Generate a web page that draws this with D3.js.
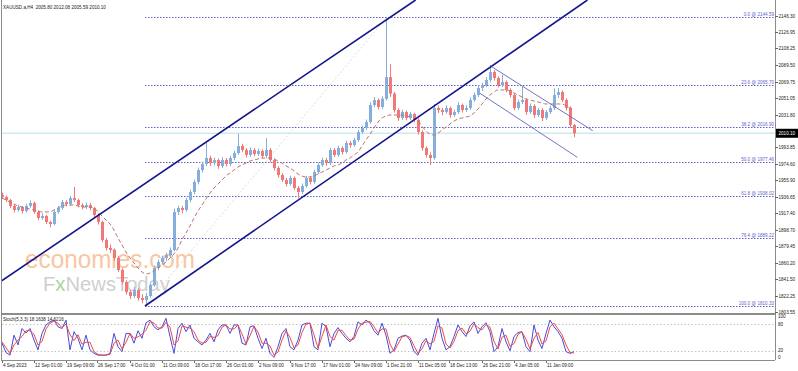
<!DOCTYPE html>
<html><head><meta charset="utf-8">
<script src="https://cdn.jsdelivr.net/npm/d3@7/dist/d3.min.js"></script>
<style>body{margin:0;background:#fff}svg{display:block}text{font-family:"Liberation Sans",Arial,sans-serif}</style>
</head><body><svg id="c" width="798" height="371"></svg>
<script>
// Each row: [open, high, low, close]; one row = 4 H4 bars
const ohlc = [
[1939.0,1941.5,1934.5,1936.4],[1936.4,1938.0,1930.5,1932.9],[1932.9,1934.0,1923.5,1926.0],[1926.0,1928.0,1918.5,1921.4],
[1921.4,1927.5,1919.5,1924.8],[1924.8,1926.0,1917.5,1920.2],[1920.2,1928.5,1918.5,1926.0],[1926.0,1932.5,1924.0,1929.5],
[1929.5,1931.0,1917.0,1919.1],[1919.1,1921.0,1909.5,1912.1],[1912.1,1917.5,1910.0,1914.4],[1914.4,1916.0,1905.0,1907.5],
[1907.5,1909.0,1901.5,1905.2],[1905.2,1921.5,1903.5,1919.1],[1919.1,1926.0,1917.0,1923.7],[1923.7,1933.0,1921.5,1930.6],
[1930.6,1932.5,1925.5,1928.3],[1928.3,1937.5,1926.5,1935.2],[1935.2,1948.0,1930.5,1932.9],[1932.9,1934.5,1924.5,1927.1],
[1927.1,1929.0,1922.0,1924.8],[1924.8,1930.0,1922.5,1927.1],[1927.1,1929.5,1921.0,1923.7],[1923.7,1925.0,1913.0,1915.6],
[1915.6,1917.5,1904.5,1907.5],[1907.5,1909.0,1884.0,1886.7],[1886.7,1889.0,1874.5,1877.4],[1877.4,1881.5,1871.5,1875.1],
[1875.1,1877.0,1862.5,1865.9],[1865.9,1868.0,1849.5,1852.0],[1852.0,1854.0,1835.5,1838.1],[1838.1,1840.0,1823.5,1826.5],
[1826.5,1829.0,1818.5,1821.9],[1821.9,1832.5,1819.5,1828.8],[1828.8,1831.0,1816.5,1819.6],[1819.6,1824.0,1813.5,1817.3],
[1817.3,1825.5,1810.3,1821.9],[1821.9,1837.5,1820.0,1834.6],[1834.6,1857.0,1832.5,1854.3],[1854.3,1864.0,1851.5,1861.2],
[1861.2,1868.5,1858.0,1865.9],[1865.9,1872.0,1862.5,1869.3],[1869.3,1878.0,1866.5,1875.1],[1875.1,1923.0,1873.5,1919.1],
[1919.1,1926.5,1915.5,1923.7],[1923.7,1926.0,1917.5,1921.4],[1921.4,1935.5,1919.5,1932.9],[1932.9,1945.0,1930.5,1942.2],
[1942.2,1956.5,1939.5,1953.8],[1953.8,1970.5,1951.0,1967.6],[1967.6,1977.5,1964.5,1974.6],[1974.6,1998.9,1972.0,1981.5],
[1981.5,1984.0,1972.5,1975.7],[1975.7,1982.0,1973.0,1979.2],[1979.2,1981.0,1969.0,1972.3],[1972.3,1982.5,1970.0,1979.2],
[1979.2,1981.5,1971.5,1974.6],[1974.6,1984.0,1972.0,1981.5],[1981.5,1990.0,1979.0,1987.3],[1987.3,2009.5,1985.0,1995.4],
[1995.4,1998.0,1988.0,1990.8],[1990.8,1993.0,1982.0,1985.0],[1985.0,1994.0,1983.0,1990.8],[1990.8,1993.0,1983.5,1986.1],
[1986.1,1992.5,1984.0,1989.6],[1989.6,1991.5,1981.0,1983.8],[1983.8,2004.6,1981.5,1990.8],[1990.8,1993.0,1976.5,1979.2],
[1979.2,1981.0,1967.0,1969.9],[1969.9,1972.0,1959.0,1961.8],[1961.8,1964.0,1953.5,1956.1],[1956.1,1958.5,1948.5,1951.4],
[1951.4,1961.0,1949.5,1958.4],[1958.4,1960.0,1944.5,1946.8],[1946.8,1949.0,1935.0,1942.2],[1942.2,1952.0,1940.0,1949.1],
[1949.1,1961.0,1947.0,1958.4],[1958.4,1960.5,1951.0,1953.8],[1953.8,1968.0,1951.5,1965.3],[1965.3,1976.0,1963.0,1973.4],
[1973.4,1982.0,1971.0,1979.2],[1979.2,1981.5,1972.5,1975.7],[1975.7,1993.5,1973.5,1990.8],[1990.8,1993.0,1982.5,1985.0],
[1985.0,1996.0,1983.0,1993.1],[1993.1,1995.0,1985.5,1988.4],[1988.4,2001.5,1986.5,1998.9],[1998.9,2001.0,1993.5,1996.5],
[1996.5,2005.0,1994.5,2002.3],[2002.3,2014.0,2000.0,2011.6],[2011.6,2019.0,2009.5,2016.2],[2016.2,2026.0,2014.0,2023.1],
[2023.1,2046.0,2021.0,2042.8],[2042.8,2052.0,2040.0,2048.6],[2048.6,2050.5,2037.5,2040.5],[2040.5,2053.0,2038.5,2050.0],
[2050.0,2144.6,2048.0,2075.0],[2075.0,2090.0,2052.0,2056.0],[2056.0,2058.0,2034.0,2037.0],[2037.0,2039.0,2024.5,2027.8],
[2027.8,2037.5,2025.5,2034.7],[2034.7,2036.5,2025.0,2027.8],[2027.8,2035.0,2025.5,2032.4],[2032.4,2034.0,2022.5,2025.5],
[2025.5,2027.5,2008.5,2011.6],[2011.6,2013.5,1990.0,1993.1],[1993.1,1995.0,1982.0,1985.0],[1985.0,1988.0,1973.4,1981.5],
[1981.5,2044.0,1979.5,2039.3],[2039.3,2042.0,2033.5,2037.0],[2037.0,2039.5,2031.0,2034.7],[2034.7,2042.5,2032.5,2039.3],
[2039.3,2041.0,2028.0,2031.2],[2031.2,2037.5,2029.0,2034.7],[2034.7,2046.0,2032.5,2042.8],[2042.8,2044.5,2034.0,2037.0],
[2037.0,2042.5,2035.0,2039.3],[2039.3,2051.5,2037.0,2048.6],[2048.6,2057.5,2046.5,2054.4],[2054.4,2065.5,2052.0,2062.5],
[2062.5,2068.5,2059.0,2065.9],[2065.9,2075.0,2063.5,2071.7],[2071.7,2089.1,2069.0,2081.0],[2081.0,2083.0,2071.0,2074.0],
[2074.0,2076.0,2063.0,2065.9],[2065.9,2078.0,2063.5,2069.4],[2069.4,2071.0,2057.5,2060.2],[2060.2,2062.0,2051.5,2054.4],
[2054.4,2056.0,2036.5,2039.3],[2039.3,2049.0,2037.0,2046.3],[2046.3,2064.0,2044.0,2048.6],[2048.6,2050.5,2031.5,2034.7],
[2034.7,2044.5,2032.5,2041.7],[2041.7,2043.5,2028.0,2031.2],[2031.2,2039.5,2029.0,2037.0],[2037.0,2039.0,2024.0,2027.8],
[2027.8,2037.0,2025.5,2034.7],[2034.7,2042.0,2032.5,2039.3],[2039.3,2062.0,2037.0,2054.4],[2054.4,2062.5,2051.0,2057.8],
[2057.8,2059.5,2046.0,2048.6],[2048.6,2050.5,2036.5,2039.3],[2039.3,2041.0,2016.5,2019.7],[2019.7,2021.0,2005.59,2010.10]
];
const maValues = [1935.2,1932.9,1930.6,1928.3,1926.0,1924.8,1923.7,1922.5,1921.4,1920.2,
1919.1,1919.1,1919.1,1921.4,1923.7,1926.0,1927.1,1927.1,1927.1,1926.0,
1924.8,1924.8,1924.8,1923.7,1919.1,1914.4,1909.8,1905.2,1898.2,1889.0,
1880.9,1872.8,1865.9,1860.1,1854.3,1849.7,1847.3,1848.5,1850.8,1854.3,
1857.7,1861.2,1865.9,1870.5,1877.4,1886.7,1894.8,1902.9,1912.1,1920.2,
1927.1,1934.1,1941.0,1946.8,1951.4,1956.1,1960.7,1964.2,1967.6,1971.1,
1973.4,1975.7,1978.0,1979.2,1980.4,1981.5,1981.5,1981.5,1980.4,1978.0,
1975.7,1972.3,1969.9,1966.5,1963.0,1960.7,1959.5,1959.5,1960.7,1963.0,
1965.3,1967.6,1969.9,1972.3,1973.4,1975.7,1979.2,1981.5,1985.0,1988.4,
1995.4,2002.3,2009.2,2016.2,2023.1,2027.8,2030.1,2031.2,2031.2,2031.2,
2031.2,2030.1,2029.0,2027.8,2024.3,2018.5,2012.7,2009.2,2008.1,2010.4,
2013.9,2017.4,2020.8,2024.3,2026.6,2027.8,2029.0,2030.1,2033.6,2038.2,
2044.0,2049.7,2054.4,2057.8,2060.2,2060.2,2060.2,2059.0,2056.7,2054.4,
2052.1,2049.7,2048.6,2047.4,2046.3,2045.1,2044.0,2044.0,2044.0,2044.0,
2044.0,2041.7,2039.3,2037.0];
const stochK = [37,16,10,55,33,70,60,70,44,22,59,78,85,89,74,70,89,22,63,48,
22,55,22,14,10,10,10,14,59,29,18,59,59,37,65,48,83,89,74,67,
74,93,52,14,70,82,63,78,48,40,33,44,59,40,67,78,78,59,78,78,
37,33,74,76,48,25,48,14,5,29,59,70,29,22,44,78,82,82,29,22,
82,74,29,59,72,59,48,40,52,85,78,89,82,65,55,82,55,14,22,48,
53,55,44,18,10,37,48,22,59,93,48,22,29,52,78,63,52,76,85,59,
74,83,63,18,29,70,40,20,52,61,63,29,18,78,44,25,59,89,74,63,
48,18,14,18];
const stochD = [40,27,13,33,44,52,65,65,57,33,41,69,82,87,82,72,80,56,43,56,
35,39,39,18,12,10,10,12,37,44,24,39,59,48,51,57,66,86,82,71,
71,84,73,33,42,76,73,71,63,44,37,39,52,50,54,73,78,69,69,78,
58,35,54,75,62,37,37,31,10,17,44,65,50,26,33,61,80,82,56,26,
52,78,52,44,66,66,54,44,46,69,82,84,86,74,60,69,69,35,18,35,
51,54,50,31,14,24,43,35,41,76,71,35,26,41,65,71,58,64,81,72,
67,79,73,41,24,50,55,30,36,57,62,46,24,48,61,35,42,74,82,69,
56,33,16,15];
const timeLabels = ["4 Sep 2023","12 Sep 01:00","19 Sep 09:00","26 Sep 17:00","4 Oct 01:00","11 Oct 09:00",
"18 Oct 17:00","26 Oct 01:00","2 Nov 09:00","9 Nov 17:00","17 Nov 01:00","24 Nov 09:00","1 Dec 21:00",
"11 Dec 05:00","18 Dec 13:00","26 Dec 21:00","4 Jan 05:00","11 Jan 09:00"];
const priceTicks = [2146.30,2126.95,2108.25,2089.50,2069.75,2051.05,2031.80,1993.85,1974.60,1955.90,
1936.65,1917.40,1898.70,1879.45,1860.20,1841.50,1822.25,1803.55];
const fibLevels = ["0.0","23.6","38.2","50.0","61.8","76.4","100.0"];
const fibPrices = [2144.59,2065.70,2016.90,1977.46,1938.02,1889.22,1810.33];
const fibAnchors = [[143.5,1810.33],[385.5,2144.59]];          // [H4 bar index, price]
const upChannel1 = [[-1.5,1838.1],[281.5,2060.2]];
const upChannel2 = [[143.5,1810.33],[571.5,2152.7]];
const downChannelTop = [[490.2,2087.1],[591.2,2013.1]];
const downChannelBottom = [[478.5,2056.3],[575.8,1982.3]];
const stochLevels = [80,20];
const stochTicks = [100,80,20,0];
const lastPrice = 2010.10;
const legendText = "XAUUSD.a,H4  2005.80 2012.08 2005.59 2010.10";
const stochText = "Stoch(5,3,3) 18.1638 14.6216";

const svg = d3.select("#c");
const W = 775, mainB = 313, stTop = 315, stBot = 360;
const x = d3.scaleLinear().domain([-1.5, 773.5]).range([0, 775]);
const y = d3.scaleLinear().domain([1802.24, 2164.25]).range([mainB, 0]);
const ys = d3.scaleLinear().domain([0, 100]).range([359.6, 315.2]);
const barIdx = i => 4 * i + 0.5;
const bull = "#86aedc", bear = "#f27878";
const fibCol = "#5f5fc8";
const fs = 4.6;

svg.append("defs").append("clipPath").attr("id","clipMain")
  .append("rect").attr("x",1).attr("y",0).attr("width",W-1).attr("height",mainB);

// watermark
const wm = svg.append("g");
wm.append("text").attr("x",25).attr("y",268).attr("font-size",26).attr("textLength",170)
  .attr("lengthAdjust","spacingAndGlyphs").attr("fill","#f9c6a2").attr("font-family","Lato, sans-serif")
  .text("economies.com");
const fx = wm.append("text").attr("x",43).attr("y",291).attr("font-size",21).attr("textLength",127)
  .attr("lengthAdjust","spacingAndGlyphs").attr("fill","#cfcfcf").attr("font-family","Lato, sans-serif");
fx.append("tspan").text("F");
fx.append("tspan").attr("fill","#a9d49c").text("x");
fx.append("tspan").text("NewsToday");

const g = svg.append("g").attr("clip-path","url(#clipMain)");

// current price line
g.append("line").attr("x1",0).attr("x2",W).attr("y1",y(lastPrice)).attr("y2",y(lastPrice))
  .attr("stroke","#cfe9f2").attr("stroke-width",1.6);

// fib trend line
g.append("line").attr("x1",x(fibAnchors[0][0])).attr("y1",y(fibAnchors[0][1]))
  .attr("x2",x(fibAnchors[1][0])).attr("y2",y(fibAnchors[1][1]))
  .attr("stroke","#dcdcdc").attr("stroke-dasharray","2,2");

// fib levels
fibPrices.forEach((p,i)=>{
  const yy = Math.round(y(p)) + 0.5;
  g.append("line").attr("x1",x(fibAnchors[0][0])).attr("x2",W).attr("y1",yy).attr("y2",yy)
    .attr("stroke",fibCol).attr("stroke-dasharray","1.5,1.5");
  svg.append("text").attr("x",774).attr("y",yy-1.2).attr("text-anchor","end").attr("font-size",fs)
    .attr("fill",fibCol).text(fibLevels[i] + " @ " + p.toFixed(2));
});

// candles
g.selectAll("line.wick").data(ohlc).join("line").attr("class","wick")
  .attr("x1",(d,i)=>x(barIdx(i))+0.5).attr("x2",(d,i)=>x(barIdx(i))+0.5)
  .attr("y1",d=>y(d[1])).attr("y2",d=>y(d[2]))
  .attr("stroke",d=>d[3]>=d[0]?bull:bear).attr("stroke-width",1);
g.selectAll("rect.body").data(ohlc).join("rect").attr("class","body")
  .attr("x",(d,i)=>x(barIdx(i))-1).attr("width",3)
  .attr("y",d=>y(Math.max(d[0],d[3])))
  .attr("height",d=>Math.max(1,Math.abs(y(d[0])-y(d[3]))))
  .attr("fill",d=>d[3]>=d[0]?bull:bear);

// moving average
g.append("path").datum(maValues)
  .attr("d", d3.line().x((d,i)=>x(barIdx(i))).y(d=>y(d)).curve(d3.curveMonotoneX))
  .attr("fill","none").attr("stroke","#b8766f").attr("stroke-width",1).attr("stroke-dasharray","4,2.5");

// rays / channels
function ray(pts, col, w){
  const [a,b] = pts;
  const x1 = x(a[0]), y1 = y(a[1]), x2 = x(b[0]), y2 = y(b[1]);
  const k = (y2-y1)/(x2-x1);
  let xe = x1 + (0 - y1)/k, ye = 0;
  g.append("line").attr("x1",x1).attr("y1",y1).attr("x2",xe).attr("y2",ye)
    .attr("stroke",col).attr("stroke-width",w);
}
function seg(pts, col, w){
  g.append("line").attr("x1",x(pts[0][0])).attr("y1",y(pts[0][1])).attr("x2",x(pts[1][0])).attr("y2",y(pts[1][1]))
    .attr("stroke",col).attr("stroke-width",w);
}
ray(upChannel1, "#14148c", 1.6);
ray(upChannel2, "#14148c", 1.6);
seg(downChannelTop, "#7474c4", 1);
seg(downChannelBottom, "#7474c4", 1);

// frames
svg.append("line").attr("x1",1.5).attr("x2",1.5).attr("y1",0).attr("y2",stBot).attr("stroke","#8c8c8c");
svg.append("line").attr("x1",W+0.5).attr("x2",W+0.5).attr("y1",0).attr("y2",stBot).attr("stroke","#8c8c8c");
svg.append("line").attr("x1",1).attr("x2",W).attr("y1",mainB+0.5).attr("y2",mainB+0.5).attr("stroke","#8c8c8c");
svg.append("line").attr("x1",1).attr("x2",W).attr("y1",stTop-0.5).attr("y2",stTop-0.5).attr("stroke","#8c8c8c");
svg.append("line").attr("x1",1).attr("x2",W).attr("y1",stBot+0.5).attr("y2",stBot+0.5).attr("stroke","#8c8c8c");

// price axis
priceTicks.forEach(p=>{
  const yy = Math.round(y(p))+0.5;
  svg.append("line").attr("x1",W).attr("x2",W+3).attr("y1",yy).attr("y2",yy).attr("stroke","#666");
  svg.append("text").attr("x",W+3.5).attr("y",yy).attr("dy","0.35em").attr("font-size",fs).attr("fill","#222")
    .text(p.toFixed(2));
});
const ly = y(lastPrice);
svg.append("rect").attr("x",W+1).attr("y",ly-4.5).attr("width",798-W-1).attr("height",9).attr("fill","#000");
svg.append("text").attr("x",W+3.5).attr("y",ly).attr("dy","0.35em").attr("font-size",fs).attr("fill","#fff")
  .text(lastPrice.toFixed(2));

// stochastic
stochLevels.forEach(v=>{
  svg.append("line").attr("x1",2).attr("x2",W).attr("y1",Math.round(ys(v))+0.5).attr("y2",Math.round(ys(v))+0.5)
    .attr("stroke","#c4c4c4").attr("stroke-dasharray","1.5,2");
});
const st = svg.append("g");
st.append("path").datum(stochK).attr("d", d3.line().x((d,i)=>x(barIdx(i))).y(d=>ys(d)))
  .attr("fill","none").attr("stroke","#4a4ad8").attr("stroke-width",1);
st.append("path").datum(stochD).attr("d", d3.line().x((d,i)=>x(barIdx(i))).y(d=>ys(d)))
  .attr("fill","none").attr("stroke","#ee4a4a").attr("stroke-width",1);
stochTicks.forEach(v=>{
  const yy = v===0 ? 357.5 : (v===100 ? 316.5 : ys(v));
  svg.append("text").attr("x",W+3).attr("y",yy).attr("dy","0.35em").attr("font-size",fs).attr("fill","#222").text(v);
});
svg.append("text").attr("x",3).attr("y",320.5).attr("font-size",fs).attr("fill","#222").text(stochText);

// time axis
timeLabels.forEach((t,k)=>{
  const xx = Math.round(x(32*k))+0.5;
  svg.append("line").attr("x1",xx).attr("x2",xx).attr("y1",stBot+1).attr("y2",stBot+3).attr("stroke","#666");
  svg.append("text").attr("x",xx+0.5).attr("y",366.8).attr("font-size",fs).attr("fill","#222").text(t);
});

// legend
svg.append("text").attr("x",3).attr("y",9).attr("font-size",fs).attr("fill","#222").attr("xml:space","preserve").text(legendText);
</script></body></html>
